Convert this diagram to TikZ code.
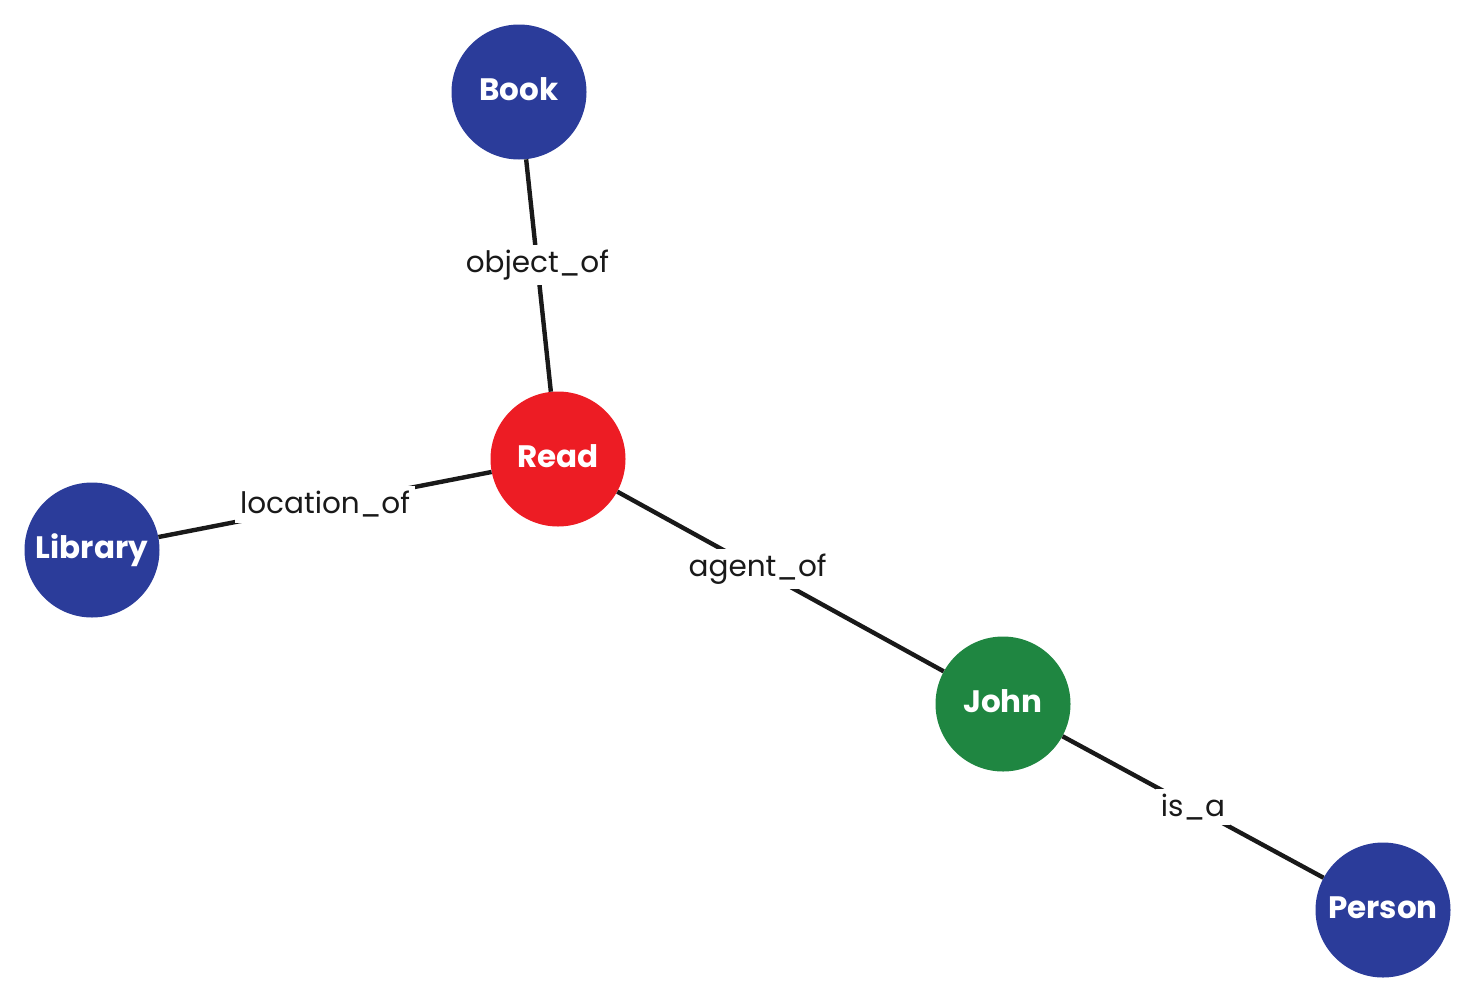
\documentclass[tikz,border=0pt]{standalone}
\usepackage{fontspec}
\setmainfont{Poppins}
\definecolor{nodeblue}{RGB}{43,60,154}
\definecolor{nodered}{RGB}{237,28,36}
\definecolor{nodegreen}{RGB}{31,134,65}
\tikzset{
  concept/.style={circle, minimum size=135pt, inner sep=0pt, text=white,
    text height=22pt, text depth=6pt,
    font=\fontsize{31}{35}\selectfont\bfseries},
  link/.style={line width=4.4pt, black!90},
  rel/.style={fill=white, inner sep=5pt, text=black!90,
    font=\fontsize{29.5}{34}\selectfont},
}
\begin{document}
\begin{tikzpicture}[x=1pt,y=-1pt]
\useasboundingbox (0,0) rectangle (1475,1002);
\node[concept, fill=nodeblue]  (book)    at (519,92)   {Book};
\node[concept, fill=nodered]   (read)    at (558,459)  {Read};
\node[concept, fill=nodeblue]  (library) at (92,550)   {Library};
\node[concept, fill=nodegreen] (john)    at (1003,704) {John};
\node[concept, fill=nodeblue]  (person)  at (1383,910) {Person};
\draw[link] (book) -- node[rel, pos=0.455] {object\_of} (read);
\draw[link] (library) -- node[rel, pos=0.5] {location\_of} (read);
\draw[link] (read) -- node[rel, pos=0.43] {agent\_of} (john);
\draw[link] (john) -- node[rel, pos=0.5] {is\_a} (person);
\end{tikzpicture}
\end{document}
